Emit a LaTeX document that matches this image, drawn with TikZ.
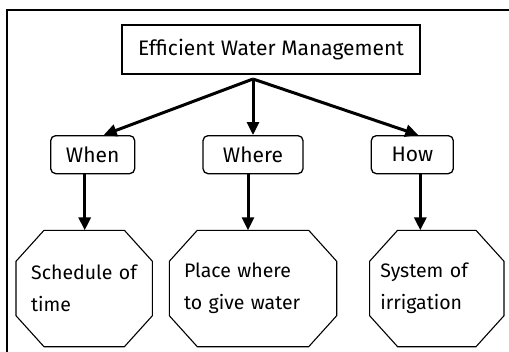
\documentclass[tikz,border=0pt]{standalone}
\usepackage{fontspec}
\setmainfont{Fira Sans}
\usetikzlibrary{arrows.meta,positioning}
\def \medY {56pt}
\def \gapX {67pt}
\def \cutX {28pt}
\def \cutY {31pt}
\tikzset{
 	headblock/.style= {draw, rectangle, line width=1.3pt, align=center, minimum width=298pt, minimum height=49pt, font=\fontsize{21}{24}\selectfont},
 	block/.style= {draw, rectangle, rounded corners=5pt, line width=1.3pt, align=center, minimum width=82pt, minimum height=38pt, font=\fontsize{21}{24}\selectfont},
 	octline/.style= {draw, line width=1.1pt, line join=miter},
 	octblock/.style= {rectangle, align=left, inner sep=0pt, minimum height=116pt, font=\fontsize{19.5}{32}\selectfont,
 		append after command={\pgfextra{\draw[octline]
 			([xshift=\cutX]\tikzlastnode.north west) -- ([xshift=-\cutX]\tikzlastnode.north east)
 			-- ([yshift=-\cutY]\tikzlastnode.north east) -- ([yshift=\cutY]\tikzlastnode.south east)
 			-- ([xshift=-\cutX]\tikzlastnode.south east) -- ([xshift=\cutX]\tikzlastnode.south west)
 			-- ([yshift=\cutY]\tikzlastnode.south west) -- ([yshift=-\cutY]\tikzlastnode.north west) -- cycle;}}},
 	link/.style= {line width=3pt, -{Triangle[width=12pt,length=13pt]}},
 	frame/.style= {draw, line width=1.3pt}
 }
\begin{document}
\begin{tikzpicture}[x=1pt,y=-1pt]
\useasboundingbox (0,0) rectangle (509,351);
\clip (0,0) rectangle (509,351);
\draw[frame] (520,10) -- (7,10) -- (7,370);

%%%%%%%%%%%%%%%%%%%%% Nodes %%%%%%%%%%%%%%%%%%%%%
	\node [headblock] (ewm) at (271,49.5) {Efficient Water Management};
	\coordinate (hub) at (253,79);
	\node [block, minimum width=100pt, below = 56pt of hub] (where) {Where};
	\node [block, minimum width=84pt, left = \gapX of where] (when) {When};
	\node [block, right = \gapX of where] (how) {How};
	\node [octblock, minimum width=136pt, text width=106pt, below = \medY of when, xshift=-8.5pt] (sched) {Schedule of\\time};
	\node [octblock, minimum width=167pt, text width=138pt, below = \medY of where] (place) {Place where\\to give water};
	\node [octblock, minimum width=134pt, text width=113pt, below = \medY of how, xshift=24.5pt] (sys) {System of\\irrigation};

%%%%%%%%%%%%%%%%%%%%% Arrows %%%%%%%%%%%%%%%%%%%%%
	\draw [link] (hub) -- ([xshift=11pt]when.north);
	\draw [link] (hub) -- (where.north);
	\draw [link] (hub) -- ([xshift=6pt]how.north);
	\draw [link] ([xshift=-8pt]when.south) -- ([xshift=-8pt]when.south |- sched.north);
	\draw [link] ([xshift=-5pt]where.south) -- ([xshift=-5pt]where.south |- place.north);
	\draw [link] ([xshift=8pt]how.south) -- ([xshift=8pt]how.south |- sys.north);

\end{tikzpicture}
\end{document}
